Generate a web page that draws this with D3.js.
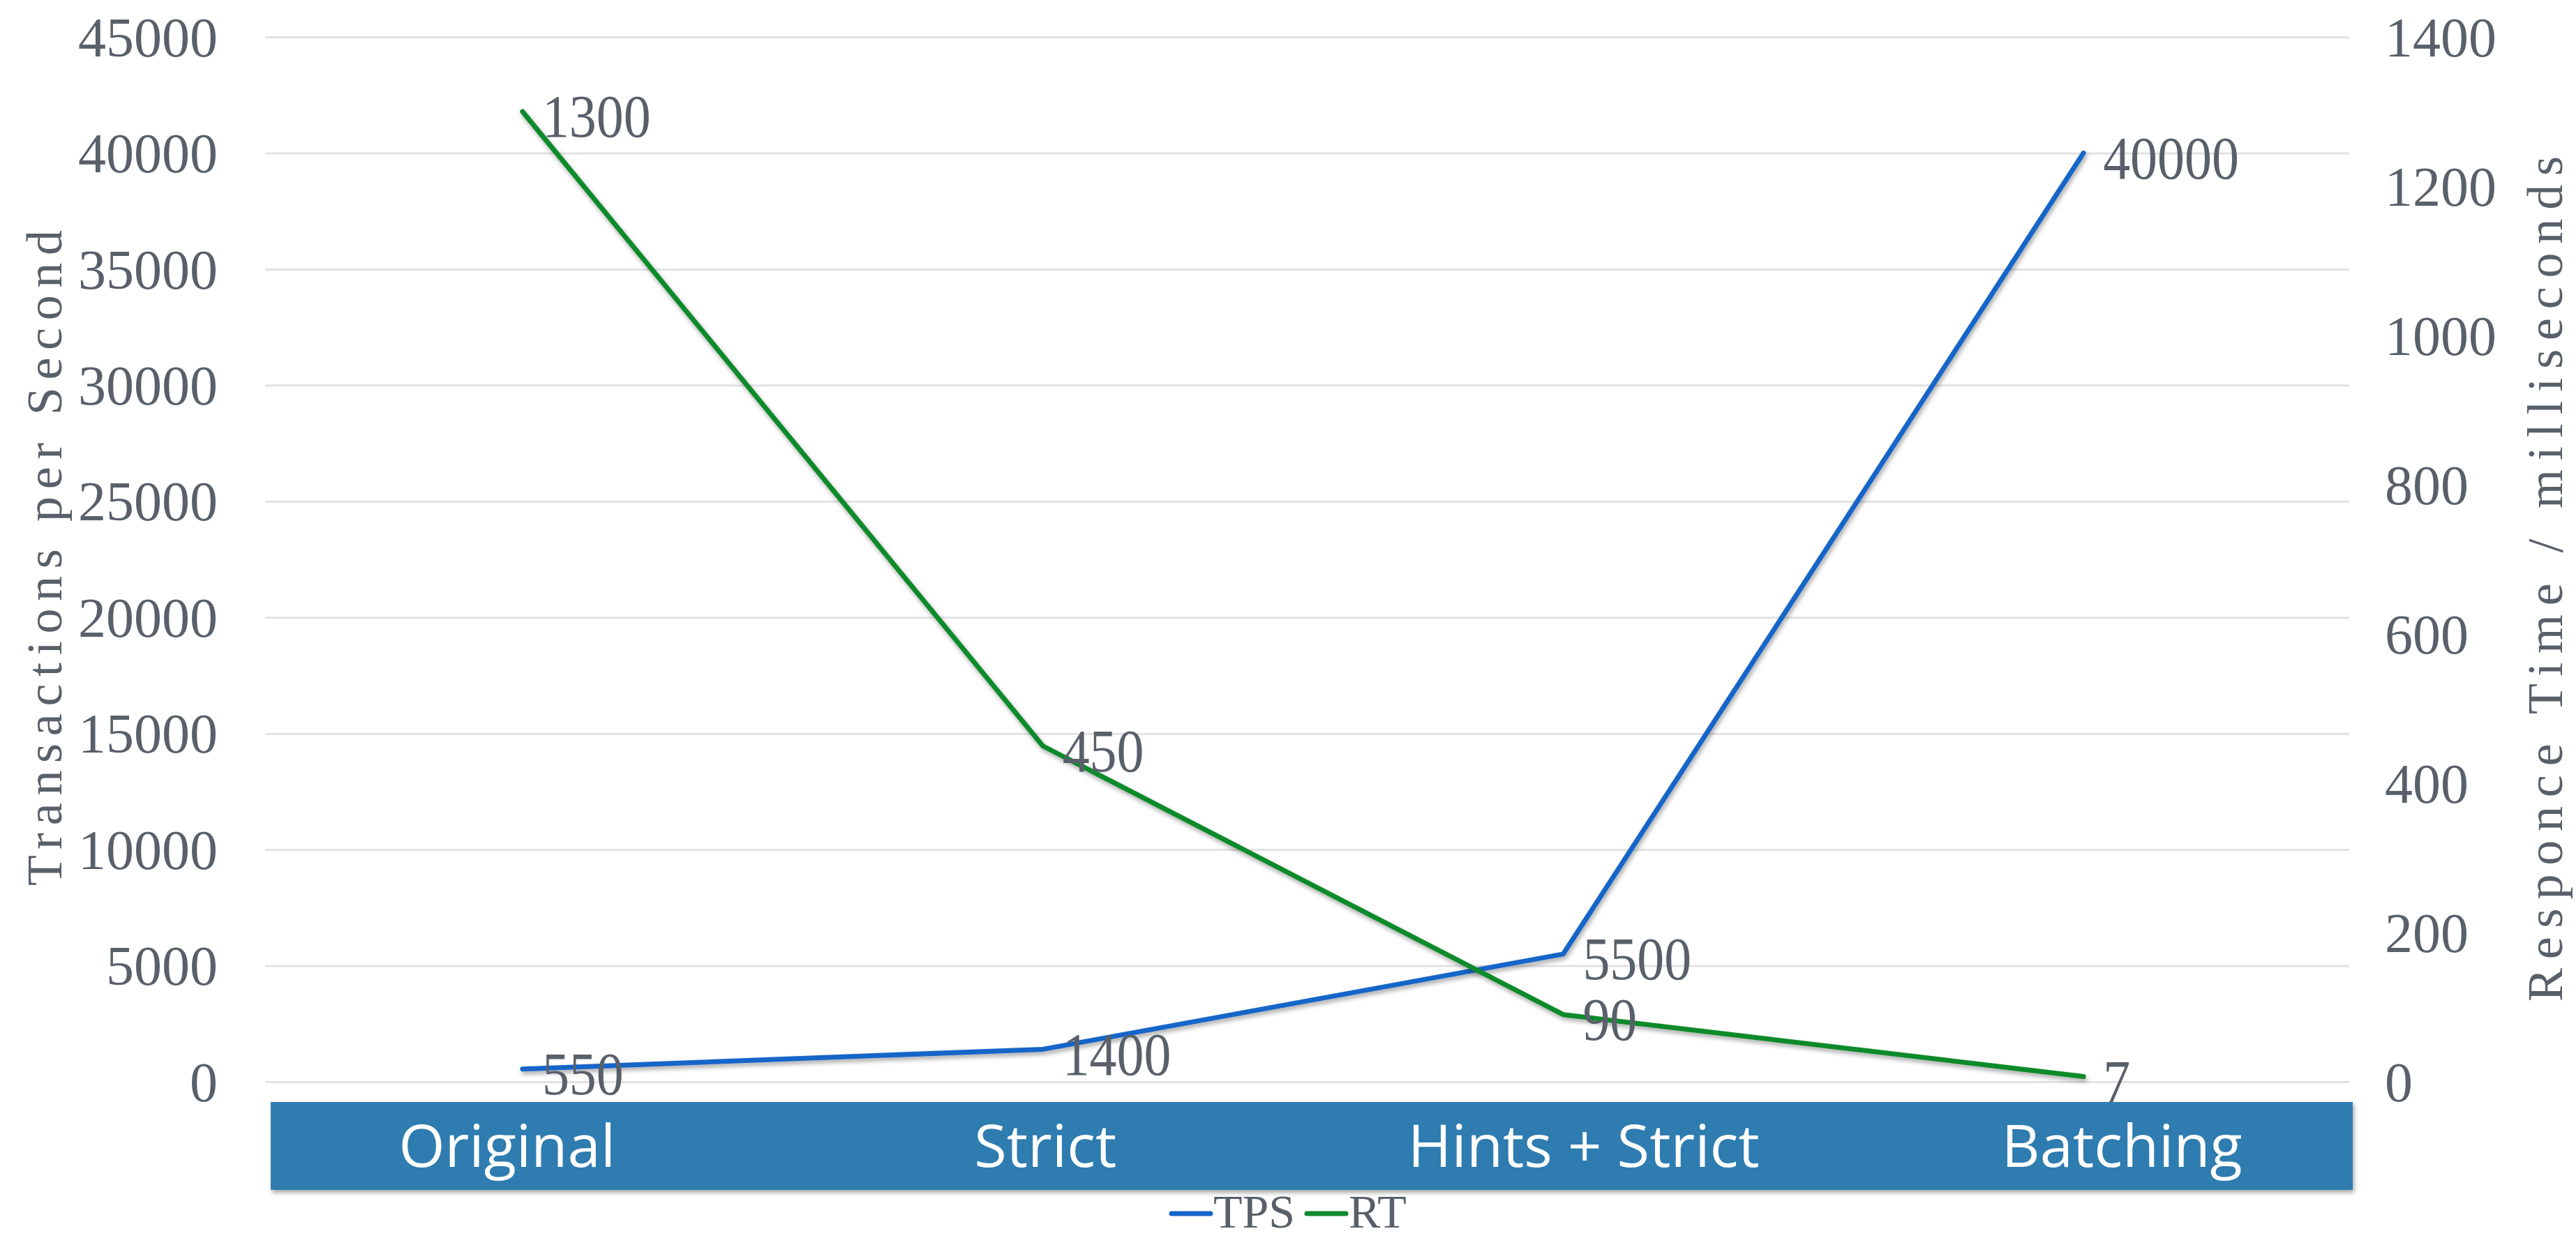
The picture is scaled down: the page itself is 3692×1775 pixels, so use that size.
<!DOCTYPE html>
<html>
<head>
<meta charset="utf-8">
<script src="https://cdn.jsdelivr.net/npm/d3@7/dist/d3.min.js"></script>
<style>
  body { margin: 0; background: #fff; }
  svg { display: block; }
</style>
</head>
<body>
<svg width="3692" height="1775"></svg>
<script>
// data
var categories = ["Original", "Strict", "Hints + Strict", "Batching"];
var tps = [550, 1400, 5500, 40000];
var rt = [1300, 450, 90, 7];
var leftTicks = [0, 5000, 10000, 15000, 20000, 25000, 30000, 35000, 40000, 45000];
var rightTicks = [0, 200, 400, 600, 800, 1000, 1200, 1400];

var svg = d3.select("svg");
var serif = "'Liberation Serif', 'DejaVu Serif', serif";
var grey = "#59606a";

var x = d3.scalePoint().domain(categories).range([376, 3359]).padding(0.5);
// the category labels in the band are spread a bit wider than the points
var xLab = d3.scalePoint().domain(categories).range([341, 3427]).padding(0.5);
var yL = d3.scaleLinear().domain([0, 45000]).range([1551, 53]);
var yR = d3.scaleLinear().domain([0, 1400]).range([1551, 53]);

var defs = svg.append("defs");
defs.append("filter").attr("id", "shadow")
    .attr("x", "-5%").attr("y", "-5%").attr("width", "110%").attr("height", "115%")
  .append("feDropShadow")
    .attr("dx", 2).attr("dy", 4).attr("stdDeviation", 3)
    .attr("flood-color", "#000").attr("flood-opacity", 0.35);

// grid lines (left axis)
svg.append("g")
    .attr("transform", "translate(380,0)")
    .call(d3.axisLeft(yL).tickValues(leftTicks).tickSize(-2987).tickFormat(""))
    .call(function(g){ g.select(".domain").remove(); })
    .selectAll("line").attr("stroke", "#e2e2e4").attr("stroke-width", 3);

// left tick labels
var gl = svg.append("g")
    .attr("transform", "translate(312,0)")
    .call(d3.axisLeft(yL).tickValues(leftTicks).tickSize(0).tickPadding(0).tickFormat(d3.format("d")));
gl.select(".domain").remove();
gl.selectAll("text").attr("font-family", serif).attr("font-size", 80).attr("fill", grey).attr("dy", "0.34em");

// right tick labels
var gr = svg.append("g")
    .attr("transform", "translate(3418,0)")
    .call(d3.axisRight(yR).tickValues(rightTicks).tickSize(0).tickPadding(0).tickFormat(d3.format("d")));
gr.select(".domain").remove();
gr.selectAll("text").attr("font-family", serif).attr("font-size", 80).attr("fill", grey).attr("dy", "0.34em");

// axis titles
svg.append("text")
    .attr("transform", "translate(88,800) rotate(-90)")
    .attr("text-anchor", "middle")
    .attr("font-family", serif).attr("font-size", 72).attr("fill", grey)
    .attr("textLength", 940).attr("lengthAdjust", "spacing")
    .text("Transactions per Second");

svg.append("text")
    .attr("transform", "translate(3672,830) rotate(-90)")
    .attr("text-anchor", "middle")
    .attr("font-family", serif).attr("font-size", 72).attr("fill", grey)
    .attr("textLength", 1212).attr("lengthAdjust", "spacing")
    .text("Responce Time / milliseconds");

// category band
svg.append("rect")
    .attr("x", 388).attr("y", 1580)
    .attr("width", 2984).attr("height", 126)
    .attr("fill", "#2e7cb0")
    .attr("filter", "url(#shadow)");

svg.append("g").selectAll("text")
    .data(categories)
    .enter().append("text")
    .attr("x", function(d){ return xLab(d); })
    .attr("y", 1673)
    .attr("text-anchor", "middle")
    .attr("font-family", "'Open Sans', 'Noto Sans', sans-serif")
    .attr("font-size", 85)
    .attr("fill", "#fff")
    .text(function(d){ return d; });

// lines
var lineL = d3.line().x(function(d, i){ return x(categories[i]); }).y(function(d){ return yL(d); });
var lineR = d3.line().x(function(d, i){ return x(categories[i]); }).y(function(d){ return yR(d); });

svg.append("path").datum(tps)
    .attr("d", lineL).attr("fill", "none")
    .attr("stroke", "#1565c8").attr("stroke-width", 7)
    .attr("stroke-linejoin", "round").attr("stroke-linecap", "round")
    .attr("filter", "url(#shadow)");

svg.append("path").datum(rt)
    .attr("d", lineR).attr("fill", "none")
    .attr("stroke", "#0f8a2c").attr("stroke-width", 7)
    .attr("stroke-linejoin", "round").attr("stroke-linecap", "round")
    .attr("filter", "url(#shadow)");

// data labels
function labels(vals, scale){
  svg.append("g").selectAll("text")
      .data(vals)
      .enter().append("text")
      .attr("transform", function(d, i){
        return "translate(" + (x(categories[i]) + 28) + "," + (scale(d) + 7) + ") scale(1,1.1)";
      })
      .attr("dy", "0.34em")
      .attr("font-family", serif).attr("font-size", 78).attr("fill", grey)
      .text(function(d){ return d; });
}
labels(tps, yL);
labels(rt, yR);

// legend
var legend = svg.append("g").attr("transform", "translate(1679,1740)");
legend.append("line").attr("x1", 0).attr("x2", 56).attr("y1", 0).attr("y2", 0)
    .attr("stroke", "#1565c8").attr("stroke-width", 7).attr("stroke-linecap", "round");
legend.append("text").attr("x", 60).attr("y", 20)
    .attr("font-family", serif).attr("font-size", 68).attr("fill", grey).text("TPS");
legend.append("line").attr("x1", 194).attr("x2", 250).attr("y1", 0).attr("y2", 0)
    .attr("stroke", "#0f8a2c").attr("stroke-width", 7).attr("stroke-linecap", "round");
legend.append("text").attr("x", 254).attr("y", 20)
    .attr("font-family", serif).attr("font-size", 68).attr("fill", grey).text("RT");
</script>
</body>
</html>
